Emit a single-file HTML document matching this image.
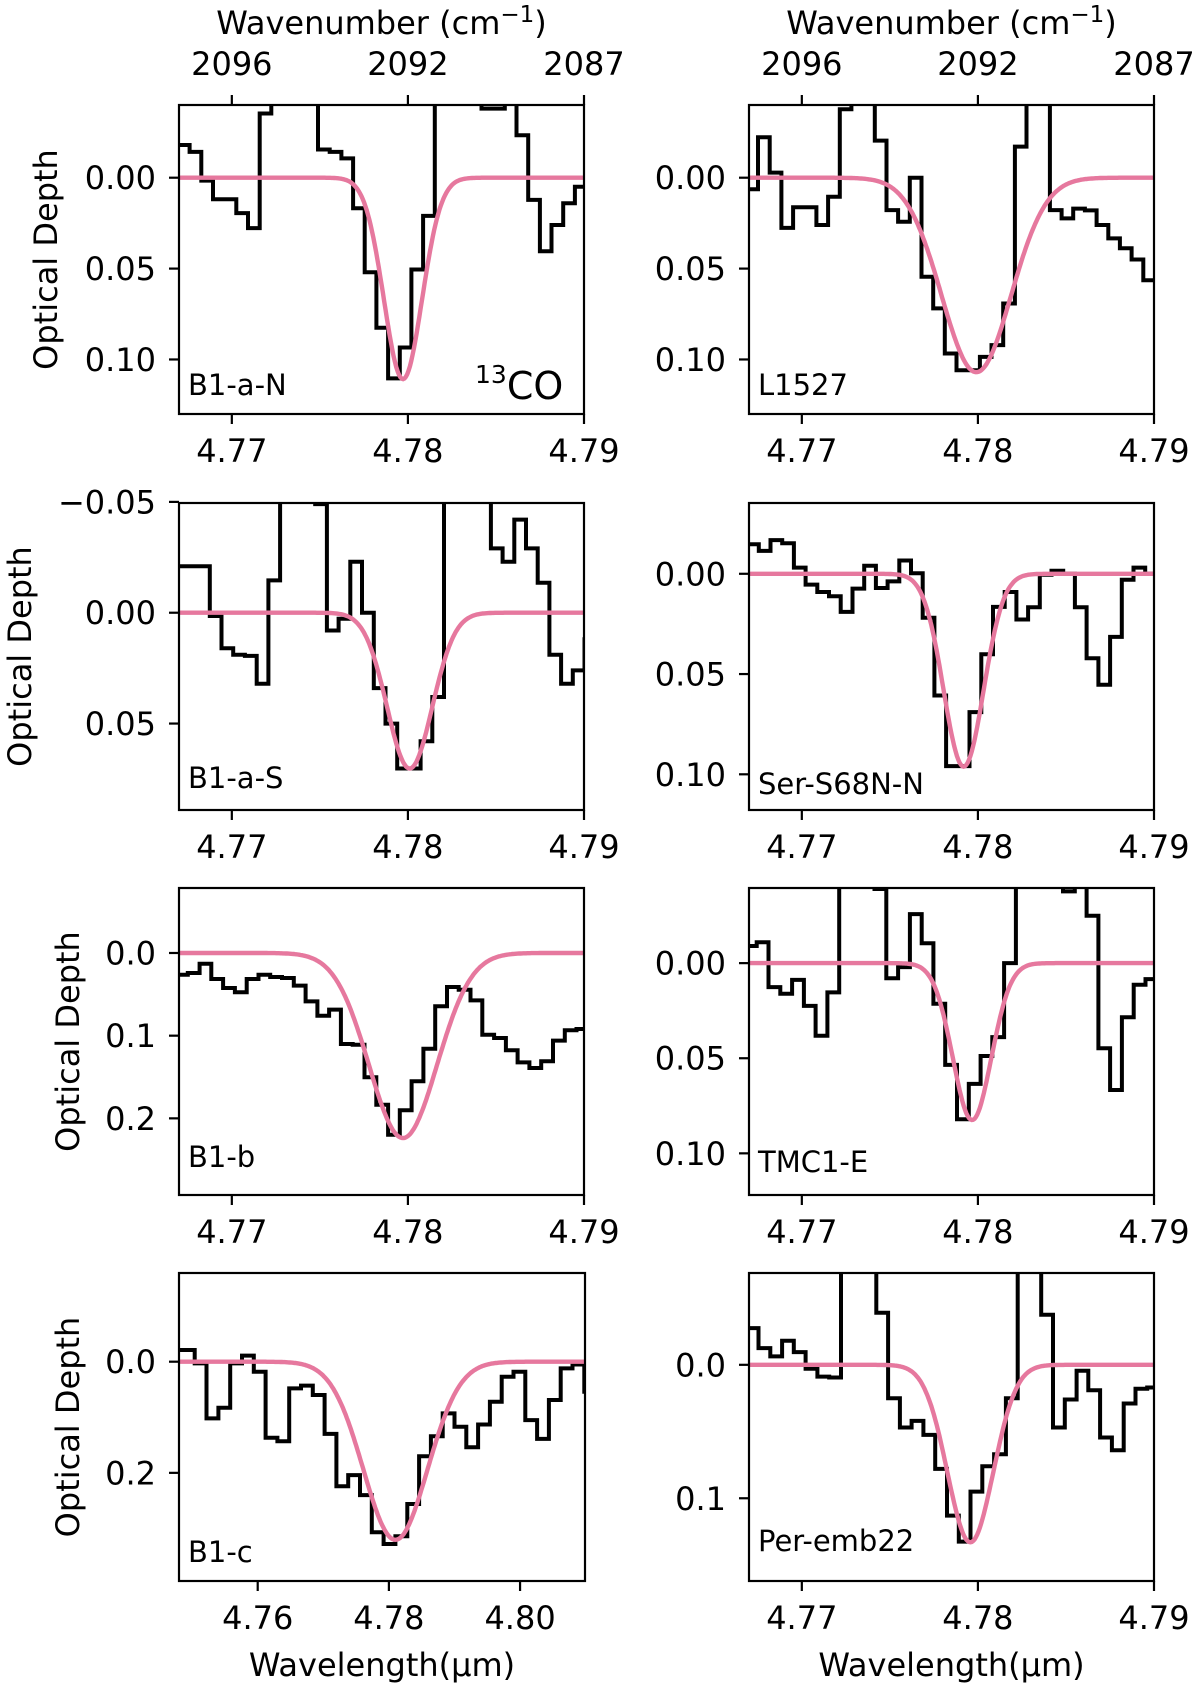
<!DOCTYPE html>
<html><head><meta charset="utf-8"><title>13CO optical depth panels</title>
<style>
html,body{margin:0;padding:0;background:#fff;}
svg{display:block;}
text{font-family:"DejaVu Sans","Liberation Sans",sans-serif;fill:#000;}
</style></head>
<body>
<svg id="chart" xmlns="http://www.w3.org/2000/svg" width="1200" height="1689" viewBox="0 0 1200 1689"></svg>
<script>
// ---------- DATA ----------
const panelLabels = ["B1-a-N","L1527","B1-a-S","Ser-S68N-N","B1-b","TMC1-E","B1-c","Per-emb22"];
const binStart = [4.76694, 4.76685, 4.76742, 4.76689, 4.76683, 4.76677, 4.7486, 4.76687];
const binWidth = [0.000663, 0.000663, 0.000665, 0.000665, 0.000669, 0.000669, 0.0018, 0.000669];
const valsB1aN = [-0.018,-0.0142,0.0016,0.0118,0.0118,0.0195,0.0277,-0.0353,-0.1,-0.1,-0.1,-0.1,-0.0155,-0.0142,-0.0106,0.0168,0.052,0.0825,0.1104,0.0934,0.0505,0.021,-0.1,-0.1,-0.1,-0.1,-0.038,-0.038,-0.1,-0.0234,0.0122,0.0405,0.026,0.014,0.005];
const valsL1527 = [0.0064,-0.0223,-0.0028,0.0276,0.0163,0.0163,0.026,0.0105,-0.0377,-0.1,-0.1,-0.0204,0.0178,0.0242,0.0,0.0545,0.0719,0.0967,0.1059,0.1059,0.0986,0.0921,0.0692,-0.0171,-0.1,-0.1,0.0178,0.0224,0.017,0.018,0.026,0.0334,0.0388,0.045,0.0564];
const valsB1aS = [-0.021,-0.021,0.0015,0.016,0.019,0.0195,0.032,-0.0146,-0.1,-0.1,-0.1,-0.049,0.008,0.0027,-0.023,0.0,0.034,0.05,0.0703,0.0703,0.058,0.038,-0.1,-0.1,-0.1,-0.1,-0.029,-0.023,-0.042,-0.029,-0.0135,0.019,0.032,0.026,0.012];
const valsSer = [-0.0147,-0.0114,-0.0168,-0.0152,-0.0031,0.0054,0.0091,0.0112,0.019,0.0074,-0.004,0.0071,0.0038,-0.0066,-0.0003,0.0219,0.0607,0.0959,0.0959,0.069,0.0401,0.0165,0.0091,0.0228,0.0167,0.0005,-0.0015,0.0,0.0167,0.0421,0.0553,0.0315,0.003,-0.0031,0.0];
const valsB1b = [0.0262,0.0242,0.0129,0.0315,0.0423,0.0476,0.0315,0.0262,0.029,0.0302,0.0395,0.0585,0.0758,0.0685,0.1101,0.1109,0.1504,0.1835,0.2198,0.1903,0.1552,0.1157,0.0645,0.0411,0.0444,0.0573,0.0988,0.1028,0.1177,0.1323,0.1391,0.131,0.106,0.0935,0.0919];
const valsTMC1E = [-0.009,-0.011,0.0126,0.0161,0.0088,0.0225,0.0382,0.0154,-0.1,-0.1,-0.1,-0.039,0.0079,0.0021,-0.0258,-0.0105,0.0214,0.0535,0.0821,0.0635,0.0488,0.0389,0.0,-0.1,-0.1,-0.1,-0.1,-0.0377,-0.1,-0.0249,0.0447,0.0667,0.0284,0.0114,0.0084];
const valsB1c = [-0.021,0.003,0.102,0.083,0.003,-0.011,0.018,0.137,0.143,0.048,0.043,0.060,0.130,0.224,0.204,0.240,0.307,0.328,0.314,0.256,0.170,0.134,0.093,0.117,0.154,0.113,0.072,0.027,0.018,0.105,0.139,0.069,0.012,0.005,0.054];
const valsPer22 = [-0.0275,-0.0125,-0.0063,-0.018,-0.0095,0.003,0.0088,0.0095,-0.1,-0.1,-0.1,-0.039,0.025,0.047,0.042,0.0525,0.078,0.113,0.1325,0.095,0.076,0.067,0.025,-0.1,-0.1,-0.0375,0.047,0.026,0.0045,0.019,0.0545,0.064,0.029,0.018,0.017];
const fitCenter = [4.77972, 4.77991, 4.7801, 4.77919, 4.77972, 4.77967, 4.7810, 4.77957];
const fitDepth  = [0.1108, 0.107, 0.0703, 0.0962, 0.2238, 0.0825, 0.3205, 0.133];
const fitSigma  = [0.00108, 0.00197, 0.00128, 0.00113, 0.00193, 0.00109, 0.00488, 0.0013];
const xLimits = [[4.767,4.790],[4.767,4.790],[4.767,4.790],[4.767,4.790],[4.767,4.790],[4.767,4.790],[4.748,4.8099],[4.767,4.790]];
const yLimits = [[-0.040,0.130],[-0.040,0.130],[-0.0495,0.089],[-0.0353,0.1178],[-0.0786,0.2927],[-0.0395,0.1219],[-0.1596,0.3946],[-0.0688,0.162]];
const xTicksStd = [4.77,4.78,4.79];
const xTickLabelsStd = ["4.77","4.78","4.79"];
const xTicksWide = [4.76,4.78,4.80];
const xTickLabelsWide = ["4.76","4.78","4.80"];
const yTicksA = [0,0.05,0.10];
const yTickLabelsA = ["0.00","0.05","0.10"];
const yTicksB = [-0.05,0,0.05];
const yTickLabelsB = ["\u22120.05","0.00","0.05"];
const yTicksC = [0,0.1,0.2];
const yTickLabelsC = ["0.0","0.1","0.2"];
const yTicksD = [0,0.2];
const yTickLabelsD = ["0.0","0.2"];
const yTicksE = [0,0.1];
const yTickLabelsE = ["0.0","0.1"];
const topTicks = [4.77,4.78,4.79];
const topTickLabels = ["2096","2092","2087"];

// ---------- LAYOUT ----------
const allVals = [valsB1aN,valsL1527,valsB1aS,valsSer,valsB1b,valsTMC1E,valsB1c,valsPer22];
const yTickSets = [[yTicksA,yTickLabelsA],[yTicksA,yTickLabelsA],[yTicksB,yTickLabelsB],[yTicksA,yTickLabelsA],[yTicksC,yTickLabelsC],[yTicksA,yTickLabelsA],[yTicksD,yTickLabelsD],[yTicksE,yTickLabelsE]];
const boxes = [
 {l:179,t:105,r:584,b:414},{l:749,t:105,r:1154,b:414},
 {l:179,t:503,r:584,b:810},{l:749,t:503,r:1154,b:810},
 {l:179,t:888,r:584,b:1195},{l:749,t:888,r:1154,b:1195},
 {l:179,t:1273,r:585,b:1581},{l:749,t:1273,r:1154,b:1581}];
const labelRaise = [19,19,22,16,28,23,19,30];
const yLabelX = [46,null,20,null,68,null,68,null];

const NS='http://www.w3.org/2000/svg';
const svg=document.getElementById('chart');
function mk(tag,attrs,parent){const e=document.createElementNS(NS,tag);for(const k in attrs)e.setAttribute(k,attrs[k]);(parent||svg).appendChild(e);return e;}
const defs=mk('defs',{});
const FS=32;

for(let p=0;p<8;p++){
  const B=boxes[p];
  const [x0,x1]=xLimits[p], [y0,y1]=yLimits[p];
  const sx=v=>B.l+(v-x0)/(x1-x0)*(B.r-B.l);
  const sy=v=>B.t+(v-y0)/(y1-y0)*(B.b-B.t);
  const slug=panelLabels[p].toLowerCase();
  const g=mk('g',{});
  
  
  const cp=mk('clipPath',{id:'clip'+p},defs);
  mk('rect',{x:B.l,y:B.t,width:B.r-B.l,height:B.b-B.t},cp);

  const vals=allVals[p];
  let d='';
  for(let i=0;i<vals.length;i++){
    let a=binStart[p]+i*binWidth[p], b=a+binWidth[p];
    let xa=sx(a), xb=sx(b);
    if(i===0) xa=Math.min(xa,B.l-5);
    if(i===vals.length-1) xb=Math.max(xb,B.r+5);
    const yy=sy(vals[i]);
    d += (i===0?'M'+xa.toFixed(1)+','+yy.toFixed(1):'V'+yy.toFixed(1))+'H'+xb.toFixed(1);
  }
  const step=mk('path',{d:d,fill:'none',stroke:'#000','stroke-width':4,'stroke-linejoin':'miter','clip-path':'url(#clip'+p+')'},g);
  
  

  let gd='';
  const N=300;
  for(let k=0;k<=N;k++){
    const lam=x0+(x1-x0)*k/N;
    const v=fitDepth[p]*Math.exp(-0.5*Math.pow((lam-fitCenter[p])/fitSigma[p],2));
    gd+=(k?'L':'M')+sx(lam).toFixed(1)+','+sy(v).toFixed(1);
  }
  const fit=mk('path',{d:gd,fill:'none',stroke:'#e6789e','stroke-width':4.4,'clip-path':'url(#clip'+p+')'},g);
  
  

  const fr=mk('rect',{x:B.l,y:B.t,width:B.r-B.l,height:B.b-B.t,fill:'none',stroke:'#000','stroke-width':2.2},g);
  
  

  const xt = (p===6)?xTicksWide:xTicksStd;
  const xtl = (p===6)?xTickLabelsWide:xTickLabelsStd;
  for(let i=0;i<xt.length;i++){
    const X=sx(xt[i]);
    const tk=mk('line',{x1:X,y1:B.b,x2:X,y2:B.b+10,stroke:'#000','stroke-width':2.2},g);
    
    
    const tl=mk('text',{x:X,y:B.b+48,'text-anchor':'middle','font-size':FS},g);
    tl.textContent=xtl[i];
    
    
  }
  const [yt,ytl]=yTickSets[p];
  for(let i=0;i<yt.length;i++){
    const Y=sy(yt[i]);
    const tk=mk('line',{x1:B.l-10,y1:Y,x2:B.l,y2:Y,stroke:'#000','stroke-width':2.2},g);
    
    
    const tl=mk('text',{x:B.l-23,y:Y+11.5,'text-anchor':'end','font-size':FS},g);
    tl.textContent=ytl[i];
    
    
  }
  if(p<2){
    for(let i=0;i<topTicks.length;i++){
      const X=sx(topTicks[i]);
      const tk=mk('line',{x1:X,y1:B.t-10,x2:X,y2:B.t,stroke:'#000','stroke-width':2.2},g);
      
      
      const tl=mk('text',{x:X,y:B.t-30,'text-anchor':'middle','font-size':FS},g);
      tl.textContent=topTickLabels[i];
      
      
    }
    const tt=mk('text',{x:(B.l+B.r)/2,y:34,'text-anchor':'middle','font-size':FS},g);
    tt.textContent='Wavenumber (cm';
    const sup=mk('tspan',{dy:-12,'font-size':23},tt);
    sup.textContent='\u22121';
    const cl=mk('tspan',{dy:12},tt);
    cl.textContent=')';
    
    
  }
  if(p>=6){
    const bt=mk('text',{x:(B.l+B.r)/2,y:1676,'text-anchor':'middle','font-size':FS},g);
    bt.textContent='Wavelength(\u03bcm)';
    
    
  }
  if(yLabelX[p]!==null){
    const cy=(B.t+B.b)/2;
    const yl=mk('text',{x:yLabelX[p],y:cy,'text-anchor':'middle','dominant-baseline':'central','font-size':FS,transform:'rotate(-90 '+yLabelX[p]+' '+cy+')'},g);
    yl.textContent='Optical Depth';
    
    
  }
  const pl=mk('text',{x:B.l+9,y:B.b-labelRaise[p],'font-size':29},g);
  pl.textContent=panelLabels[p];
  
  
  if(p===0){
    const co=mk('text',{x:475,y:399,'font-size':38},g);
    const s13=mk('tspan',{'font-size':25,dy:-16},co);
    s13.textContent='13';
    const sco=mk('tspan',{dy:16},co);
    sco.textContent='CO';
    
    
  }
}
</script>
</body></html>
